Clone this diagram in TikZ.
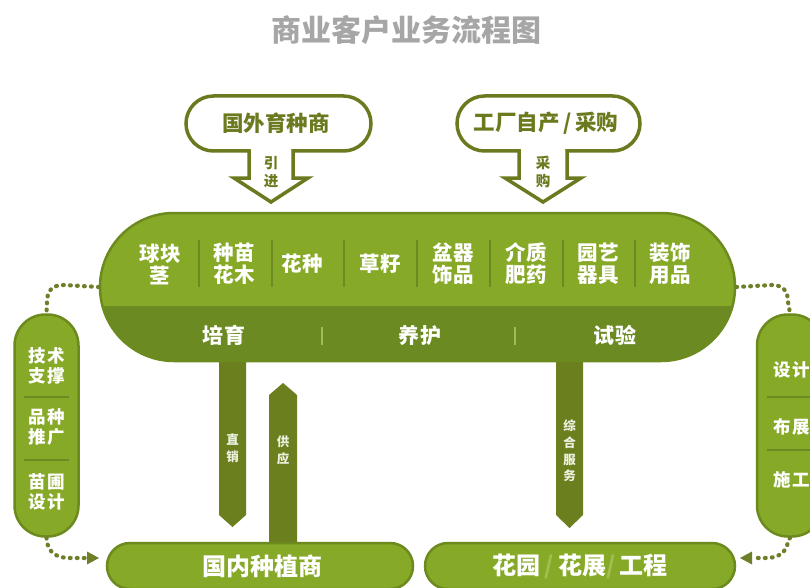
\documentclass[tikz,border=0pt]{standalone}
\usepackage{fontspec}
\setmainfont{Noto Sans CJK SC}
\usetikzlibrary{shapes.misc,arrows.meta}
\definecolor{lg}{HTML}{87A928}
\definecolor{dg}{HTML}{6B8A22}
\definecolor{barc}{HTML}{6B7F1F}
\definecolor{bd}{HTML}{6C8A1E}
\definecolor{ol}{HTML}{6B7A1E}
\definecolor{tg}{HTML}{A6A6A6}
\definecolor{dotc}{HTML}{6E7F2A}
\definecolor{sl}{HTML}{A3BE50}
\definecolor{barText}{HTML}{ECF1DF}
\begin{document}
\begin{tikzpicture}[x=1pt,y=-1pt,
  hpill/.style={rounded rectangle, fill=lg, draw=bd, line width=2.5pt, inner sep=0pt},
  vpill/.style={rectangle, rounded corners=31pt, fill=lg, draw=bd, line width=2.5pt, inner sep=0pt},
  item/.style={text=white, font=\fontsize{20.5}{22}\selectfont\bfseries, align=center, inner sep=0pt},
  band/.style={text=white, font=\fontsize{21}{24}\selectfont\bfseries\addfontfeature{LetterSpace=6}, inner sep=0pt},
  side/.style={text=white, font=\fontsize{17.5}{20}\selectfont\bfseries\addfontfeature{LetterSpace=8}, align=center, inner sep=0pt},
  bartext/.style={text=barText, font=\fontsize{12.5}{16.7}\selectfont\bfseries, align=center, inner sep=0pt},
  bigtext/.style={text=white, font=\fontsize{24}{26}\selectfont\bfseries, inner sep=0pt},
  srctext/.style={text=ol, font=\fontsize{21.5}{22}\selectfont\bfseries, inner sep=0pt},
  arrtext/.style={text=ol, font=\fontsize{14.5}{18}\selectfont\bfseries, align=center, inner sep=0pt},
  outline/.style={draw=ol, line width=3.5pt, fill=white, line join=miter},
  sepdark/.style={draw=dg, line width=1.5pt},
  seplight/.style={draw=sl, line width=1.2pt},
  dotline/.style={draw=dotc, line width=4.2pt, line cap=round, dash pattern=on 0.8pt off 6.2pt}
]
\useasboundingbox (0,0) rectangle (810,588);
\fill[white] (0,0) rectangle (810,588);

% title
\node[text=tg, font=\fontsize{30}{32}\selectfont\bfseries, inner sep=0pt] (title) at (406,30) {商业客户业务流程图};

% ---------- top source 1 ----------
\node[outline, rounded rectangle, minimum width=185pt, minimum height=55pt, inner sep=0pt] (srcA) at (278.5,123.5) {};
\draw[outline] (249,150) -- (249,178) -- (234,178) -- (271,202) -- (308,178) -- (293,178) -- (293,150);
\fill[white] (250.8,147) rectangle (291.2,154);
\node[srctext] (srcAt) at (276,123.5) {国外育种商};
\node[arrtext] (inA) at (271,172) {引\\进};

% ---------- top source 2 ----------
\node[outline, rounded rectangle, minimum width=183pt, minimum height=55pt, inner sep=0pt] (srcB) at (548.5,123.5) {};
\draw[outline] (519,150) -- (519,178) -- (505,178) -- (543,202) -- (581,178) -- (567,178) -- (567,150);
\fill[white] (520.8,147) rectangle (565.2,154);
\node[srctext] (srcBt) at (546,123.5) {工厂自产\,/\,采购};
\node[arrtext] (inB) at (543,172) {采\\购};

% ---------- bars (behind) ----------
\fill[barc] (219,340) -- (219,515) -- (232.5,527) -- (246,515) -- (246,340) -- cycle;
\fill[barc] (556,340) -- (556,515) -- (569.5,528) -- (583,515) -- (583,340) -- cycle;
\fill[barc] (269,560) -- (269,395) -- (283,383) -- (297,395) -- (297,560) -- cycle;

% ---------- main ----------
\node[hpill, minimum width=635pt, minimum height=148pt,
  path picture={\fill[dg] (path picture bounding box.south west) rectangle ([yshift=55pt]path picture bounding box.south east);}]
  (main) at (417.5,287) {};

\node[item] (i1) at (160,264) {球块\\茎};
\node[item] (i2) at (234,264) {种苗\\花木};
\node[item] (i3) at (302,264) {花种};
\node[item] (i4) at (380,264) {草籽};
\node[item] (i5) at (453,264) {盆器\\饰品};
\node[item] (i6) at (526,264) {介质\\肥药};
\node[item] (i7) at (598,264) {园艺\\器具};
\node[item] (i8) at (670,264) {装饰\\用品};
\foreach \x in {199,272,344,417,490,563,635}
  \draw[sepdark] (\x,240) -- (\x,287);

\node[band] (b1) at (224,335) {培育};
\node[band] (b2) at (420,335) {养护};
\node[band] (b3) at (615,335) {试验};
\draw[seplight] (322,327) -- (322,345);
\draw[seplight] (515,327) -- (515,345);

% ---------- bar labels ----------
\node[bartext] (t1) at (232.5,448.5) {直\\销};
\node[bartext] (t2) at (283,450) {供\\应};
\node[bartext] (t3) at (569.5,451) {综\\合\\服\\务};

% ---------- bottom nodes ----------
\node[hpill, minimum width=306pt, minimum height=46pt] (dom) at (260,566) {};
\node[bigtext] (domt) at (262,566) {国内种植商};
\node[hpill, minimum width=310pt, minimum height=46pt] (gar) at (580,566) {};
\node[bigtext] (gart) at (580,566) {花园\,\textcolor{sl}{/}\,花展\textcolor{sl}{/}\,工程};

% ---------- side pills ----------
\node[vpill, minimum width=64pt, minimum height=222pt] (lp) at (46.5,425.5) {};
\node[side] (l1) at (47,366) {技术\\支撑};
\node[side] (l2) at (47,427) {品种\\推广};
\node[side] (l3) at (47,492) {苗圃\\设计};
\draw[sepdark] (24,397) -- (69,397);
\draw[sepdark] (24,460) -- (69,460);

\node[vpill, minimum width=66pt, minimum height=222pt] (rp) at (790,425.5) {};
\node[side, anchor=west] (r1) at (773,370) {设计};
\node[side, anchor=west] (r2) at (773,427) {布展};
\node[side, anchor=west] (r3) at (773,480) {施工};
\draw[sepdark] (767,397) -- (812,397);
\draw[sepdark] (767,450) -- (812,450);

% ---------- dotted connectors ----------
\coordinate (la) at (99,558);
\coordinate (ra) at (740,558);
\draw[dotline] (main.west) -- (64,285) .. controls (52,285) and (47,291) .. (47,302) -- (lp.north);
\draw[dotline] (lp.south) -- (47,542) .. controls (49,553) and (57,558) .. (70,558) -- (86,558);
\fill[dotc] (la) -- (87,551.5) -- (87,564.5) -- cycle;
\draw[dotline] (main.east) -- (772,285) .. controls (783,285) and (788,291) .. (788,302) -- (rp.north);
\draw[dotline] (rp.south) -- (788,542) .. controls (786,553) and (778,558) .. (766,558) -- (753,558);
\fill[dotc] (ra) -- (752,551.5) -- (752,564.5) -- cycle;
\end{tikzpicture}
\end{document}
